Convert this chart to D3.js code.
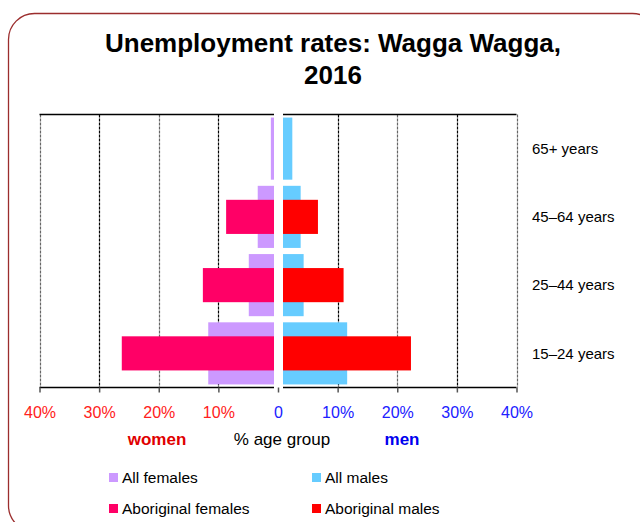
<!DOCTYPE html>
<html>
<head>
<meta charset="utf-8">
<script src="https://cdn.jsdelivr.net/npm/d3@7"></script>
<style>
  body { margin: 0; background: #fff; }
  text { font-family: "Liberation Sans", Arial, sans-serif; }
</style>
</head>
<body>
<svg width="640" height="522"></svg>
<script>
// data (% unemployed in each age group)
var ageGroups = ["65+ years", "45–64 years", "25–44 years", "15–24 years"];
var allFemales = [1.2, 3.4, 4.9, 11.7];
var aboriginalFemales = [null, 8.7, 12.6, 26.2];
var allMales = [2.4, 3.8, 4.3, 11.6];
var aboriginalMales = [null, 6.7, 11.0, 22.3];
var tickValues = [-40, -30, -20, -10, 0, 10, 20, 30, 40];

var colors = {
  allF: "#cc99ff",
  aboF: "#ff0066",
  allM: "#66ccff",
  aboM: "#ff0000"
};

var svg = d3.select("svg");

// frame
svg.append("rect")
  .attr("x", 8.5).attr("y", 13.5)
  .attr("width", 650).attr("height", 518)
  .attr("rx", 26).attr("ry", 26)
  .attr("fill", "none")
  .attr("stroke", "#9b2d2d")
  .attr("stroke-width", 1.3);

// title
svg.append("text")
  .attr("x", 333).attr("y", 52)
  .attr("text-anchor", "middle")
  .style("font-size", "26px").style("font-weight", "bold")
  .text("Unemployment rates: Wagga Wagga,");
svg.append("text")
  .attr("x", 333).attr("y", 84)
  .attr("text-anchor", "middle")
  .style("font-size", "26px").style("font-weight", "bold")
  .text("2016");

var plot = {left: 39.5, right: 516.5, top: 114.5, bottom: 387.5};
var xScale = d3.scaleLinear().domain([-40, 40]).range([plot.left, plot.right]);
var yScale = d3.scaleBand().domain(ageGroups).range([plot.top, plot.bottom]);
var bw = yScale.bandwidth();
var gapL = xScale(0) - 4, gapR = xScale(0) + 5;

// gridlines
svg.append("g").selectAll("line")
  .data(tickValues.filter(function(d){ return d != 0; }))
  .enter().append("line")
  .attr("x1", function(d){ return Math.round(xScale(d)) + 0.5; })
  .attr("x2", function(d){ return Math.round(xScale(d)) + 0.5; })
  .attr("y1", plot.top).attr("y2", plot.bottom)
  .attr("stroke", function(d){ return Math.abs(d) == 40 || Math.abs(d) == 20 ? "#666" : "#000"; })
  .attr("stroke-width", 1.2)
  .attr("stroke-dasharray", "3,1");

function bars(values, color, sign, frac) {
  svg.append("g").selectAll("rect")
    .data(values)
    .enter().filter(function(d){ return d != null; })
    .append("rect")
    .attr("x", function(d){ return sign < 0 ? xScale(-d) : xScale(0); })
    .attr("width", function(d){ return Math.abs(xScale(d) - xScale(0)); })
    .attr("y", function(d){ return yScale(ageGroups[values.indexOf(d)]) + bw * (1 - frac) / 2; })
    .attr("height", bw * frac)
    .attr("fill", color);
}
bars(allFemales, colors.allF, -1, 0.91);
bars(allMales, colors.allM, 1, 0.91);
bars(aboriginalFemales, colors.aboF, -1, 0.5);
bars(aboriginalMales, colors.aboM, 1, 0.5);

// white strip between the two halves
svg.append("rect")
  .attr("x", gapL).attr("y", plot.top - 2)
  .attr("width", gapR - gapL).attr("height", plot.bottom - plot.top + 3)
  .attr("fill", "#fff");

// top and bottom borders
[plot.top, plot.bottom].forEach(function(y){
  svg.append("line").attr("x1", plot.left).attr("x2", gapL).attr("y1", y).attr("y2", y)
    .attr("stroke", "#000").attr("stroke-width", 1.5);
  svg.append("line").attr("x1", gapR).attr("x2", plot.right).attr("y1", y).attr("y2", y)
    .attr("stroke", "#000").attr("stroke-width", 1.5);
});

// x axis
var xAxis = d3.axisBottom(xScale)
  .tickValues(tickValues)
  .tickSize(5).tickPadding(14)
  .tickFormat(function(d){ return d == 0 ? "0" : Math.abs(d) + "%"; });
var gx = svg.append("g")
  .attr("transform", "translate(0," + plot.bottom + ")")
  .call(xAxis);
gx.select(".domain").remove();
gx.selectAll(".tick line").attr("stroke", "#555").attr("stroke-width", 1.5);
gx.selectAll(".tick text")
  .style("font-size", "16px")
  .attr("fill", function(d){ return d < 0 ? "#ff2020" : "#2020ff"; });

// axis captions
svg.append("text").attr("x", 157).attr("y", 445).attr("text-anchor", "middle")
  .style("font-size", "17px").style("font-weight", "bold").attr("fill", "#e00000").text("women");
svg.append("text").attr("x", 282).attr("y", 445).attr("text-anchor", "middle")
  .style("font-size", "17px").text("% age group");
svg.append("text").attr("x", 402).attr("y", 445).attr("text-anchor", "middle")
  .style("font-size", "17px").style("font-weight", "bold").attr("fill", "#0000ee").text("men");

// category labels
svg.append("g").selectAll("text")
  .data(ageGroups)
  .enter().append("text")
  .attr("x", 532)
  .attr("y", function(d){ return yScale(d) + bw / 2; })
  .attr("dy", "0.35em")
  .style("font-size", "15px")
  .text(function(d){ return d; });

// legend
var legendItems = [
  {label: "All females", color: colors.allF, col: 0, row: 0},
  {label: "All males", color: colors.allM, col: 1, row: 0},
  {label: "Aboriginal females", color: colors.aboF, col: 0, row: 1},
  {label: "Aboriginal males", color: colors.aboM, col: 1, row: 1}
];
var leg = svg.append("g").selectAll("g")
  .data(legendItems)
  .enter().append("g")
  .attr("transform", function(d){ return "translate(" + (109 + d.col * 203) + "," + (478 + d.row * 31) + ")"; });
leg.append("rect").attr("x", 0).attr("y", -5).attr("width", 9).attr("height", 9)
  .attr("fill", function(d){ return d.color; });
leg.append("text").attr("x", 13).attr("y", 0).attr("dy", "0.35em")
  .style("font-size", "15.5px")
  .text(function(d){ return d.label; });
</script>
</body>
</html>
